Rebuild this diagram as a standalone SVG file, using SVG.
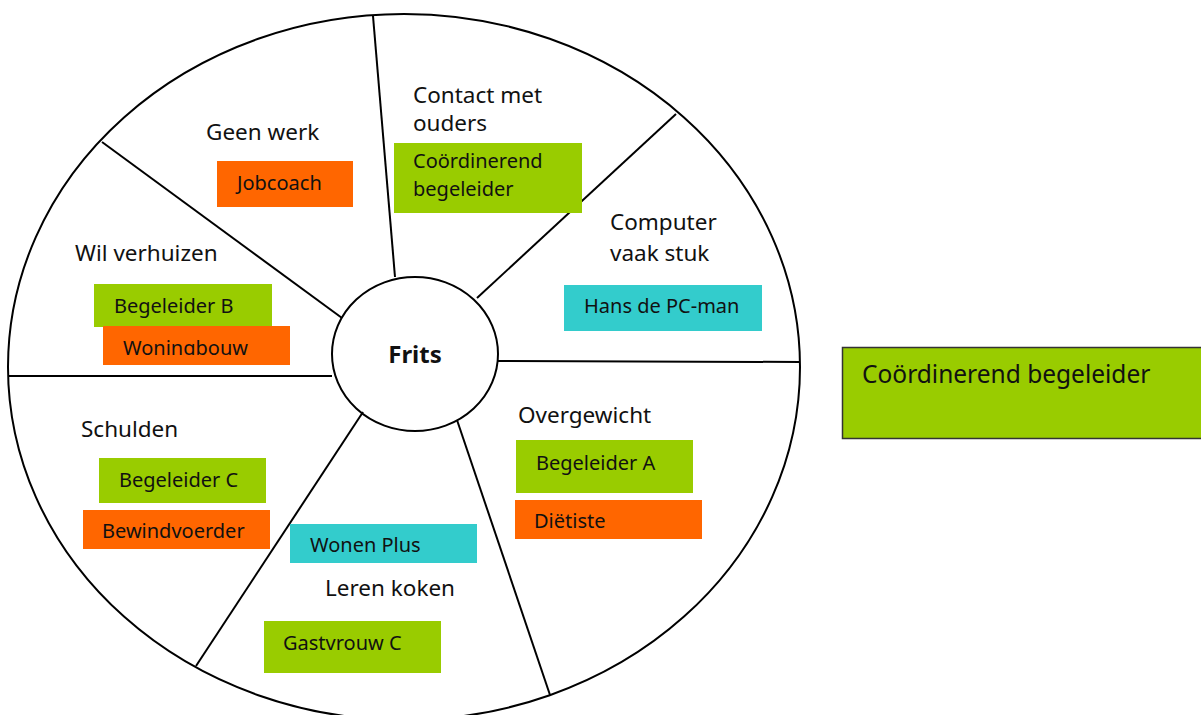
<svg xmlns="http://www.w3.org/2000/svg" width="1201" height="715" viewBox="0 0 1201 715">
<style>
.ln{stroke:#000;stroke-width:2;fill:none}
.lbl{font-family:"Noto Sans","Open Sans","DejaVu Sans",sans-serif;font-size:22.5px;fill:#111}
.bt{font-family:"Noto Sans","Open Sans","DejaVu Sans",sans-serif;font-size:20px;fill:#111}
.g{fill:#99CC00}.o{fill:#FF6600}.c{fill:#33CCCC}
</style>
<defs>
<clipPath id="clipW"><rect x="103" y="326" width="187" height="29"/></clipPath>
</defs>
<rect width="1201" height="715" fill="#fff"/>
<g id="wheel">
<ellipse class="ln" cx="404" cy="367" rx="396" ry="353"/>
</g>
<g id="connectors">
<line class="ln" x1="373" y1="16" x2="395" y2="277"/>
<line class="ln" x1="676" y1="114" x2="477" y2="298"/>
<line class="ln" x1="497" y1="361" x2="800" y2="362"/>
<line class="ln" x1="457" y1="420" x2="550" y2="695"/>
<line class="ln" x1="363" y1="412" x2="196" y2="666"/>
<line class="ln" x1="9" y1="376" x2="332" y2="376"/>
<line class="ln" x1="102" y1="142" x2="342" y2="318"/>
</g>
<g id="frits">
<ellipse class="ln" cx="415" cy="354" rx="83" ry="77" fill="#fff"/>
<text x="415" y="363" text-anchor="middle" font-family="'Noto Sans','Open Sans',sans-serif" font-size="24" font-weight="bold" fill="#111">Frits</text>
</g>
<g id="geen-werk">
<text class="lbl" x="206" y="140">Geen werk</text>
<rect class="o" x="217" y="161" width="136" height="46"/>
<text class="bt" x="237" y="190">Jobcoach</text>
</g>
<g id="contact-ouders">
<text class="lbl" x="413" y="103">Contact met</text>
<text class="lbl" x="413" y="131">ouders</text>
<rect class="g" x="394" y="143" width="188" height="70"/>
<text class="bt" x="413" y="168">Coördinerend</text>
<text class="bt" x="413" y="195.5">begeleider</text>
</g>
<g id="computer">
<text class="lbl" x="610" y="230">Computer</text>
<text class="lbl" x="610" y="261">vaak stuk</text>
<rect class="c" x="564" y="285" width="198" height="46"/>
<text class="bt" x="584" y="313">Hans de PC-man</text>
</g>
<g id="verhuizen">
<text class="lbl" x="75" y="261">Wil verhuizen</text>
<rect class="g" x="94" y="284" width="178" height="43"/>
<text class="bt" x="114" y="313">Begeleider B</text>
<rect class="o" x="103" y="326" width="187" height="39"/>
<text class="bt" x="123" y="355" clip-path="url(#clipW)">Woningbouw</text>
</g>
<g id="schulden">
<text class="lbl" x="81" y="437">Schulden</text>
<rect class="g" x="99" y="458" width="167" height="45"/>
<text class="bt" x="119" y="487">Begeleider C</text>
<rect class="o" x="83" y="510" width="187" height="39"/>
<text class="bt" x="102" y="538">Bewindvoerder</text>
</g>
<g id="leren-koken">
<rect class="c" x="290" y="524" width="187" height="39"/>
<text class="bt" x="310" y="552">Wonen Plus</text>
<text class="lbl" x="325" y="596">Leren koken</text>
<rect class="g" x="264" y="621" width="177" height="52"/>
<text class="bt" x="283" y="650">Gastvrouw C</text>
</g>
<g id="overgewicht">
<text class="lbl" x="518" y="423">Overgewicht</text>
<rect class="g" x="516" y="440" width="177" height="53"/>
<text class="bt" x="536" y="470">Begeleider A</text>
<rect class="o" x="515" y="500" width="187" height="39"/>
<text class="bt" x="534" y="528">Diëtiste</text>
</g>
<g id="legend">
<rect x="842.5" y="347.5" width="362" height="91" fill="#99CC00" stroke="#333" stroke-width="1.5"/>
<text x="862" y="383" font-family="'Noto Sans','Open Sans',sans-serif" font-size="24.5" fill="#111">Coördinerend begeleider</text>
</g>
</svg>
